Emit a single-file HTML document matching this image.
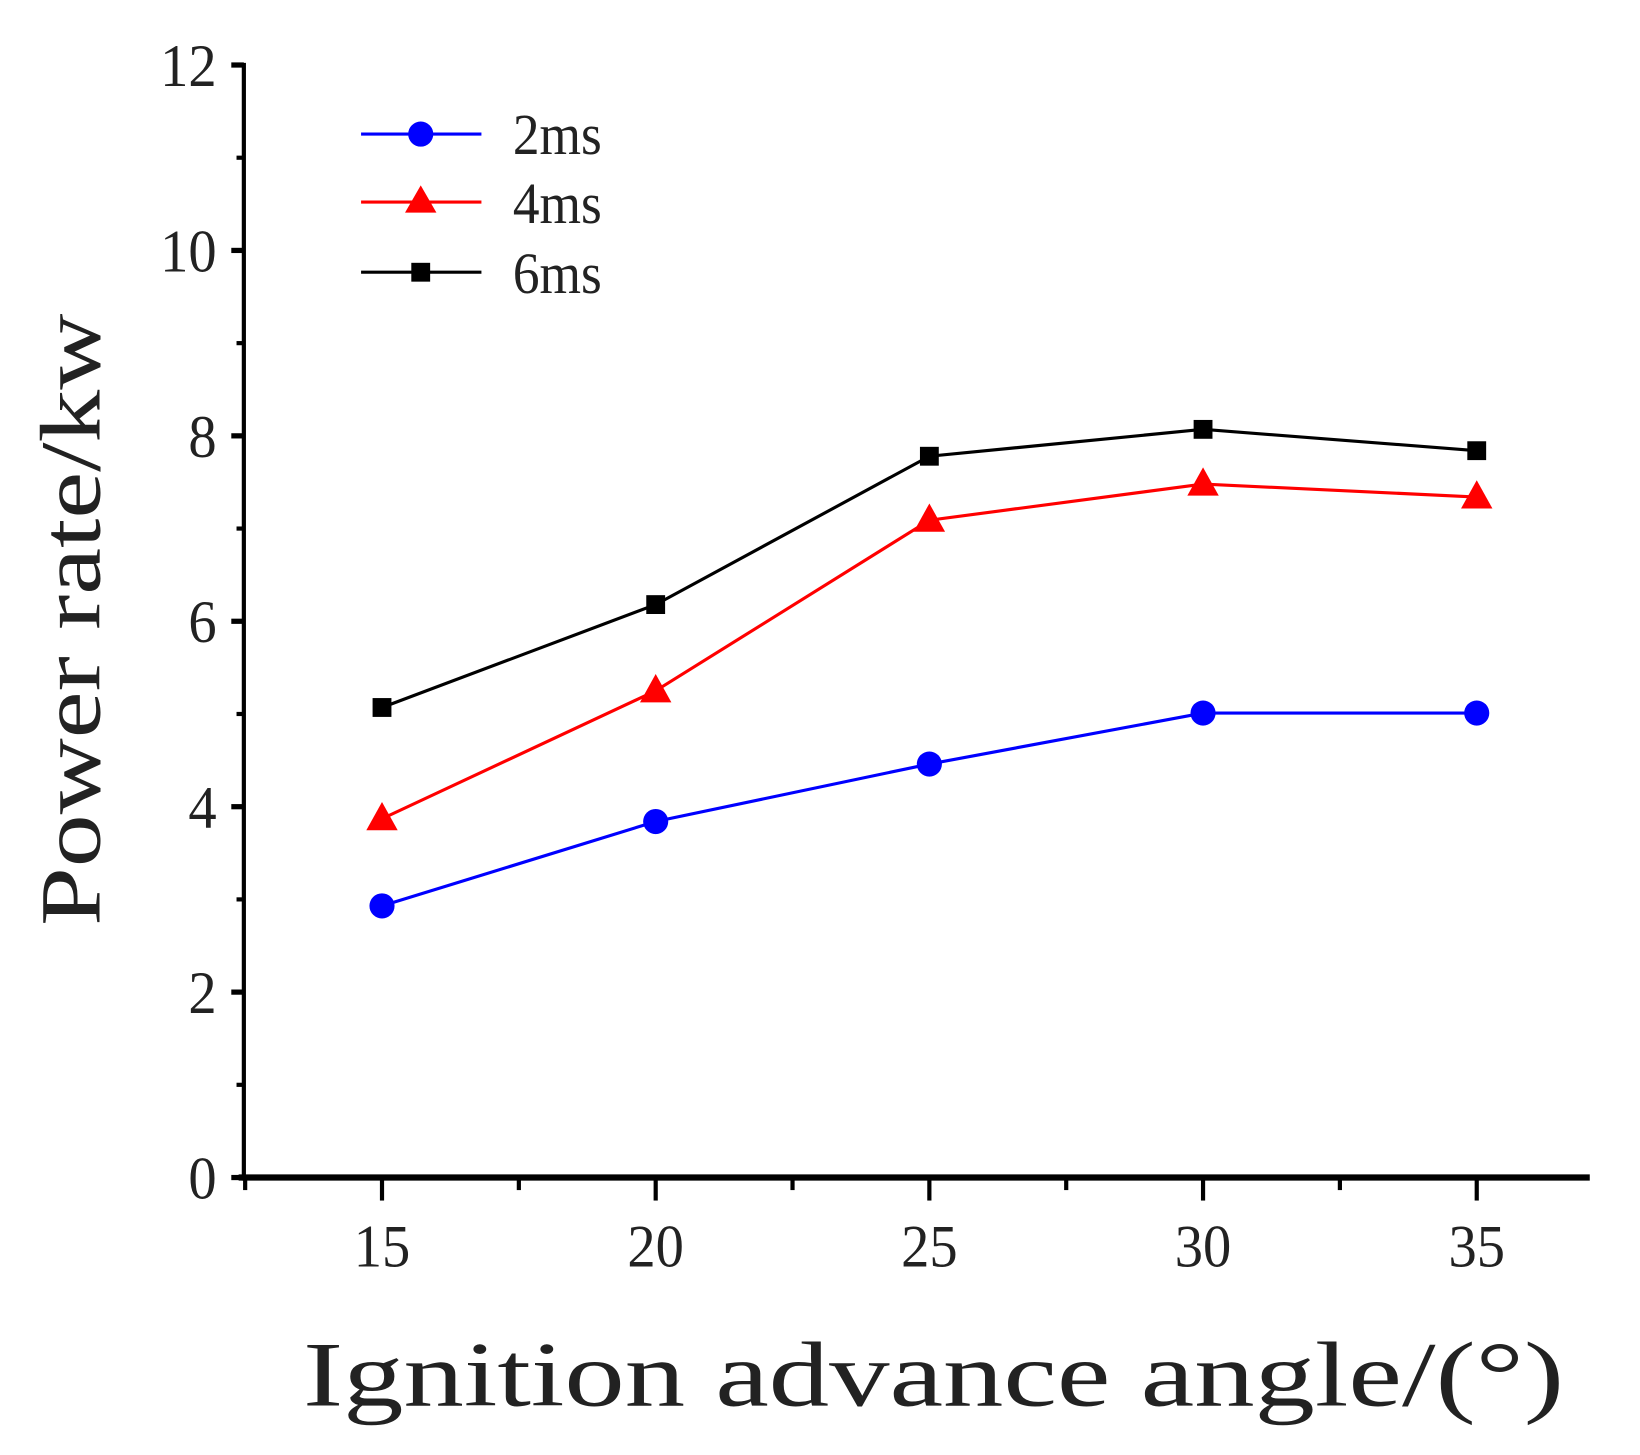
<!DOCTYPE html>
<html><head><meta charset="utf-8"><style>html,body{margin:0;padding:0;background:#fff}svg{display:block}</style></head>
<body>
<svg width="1640" height="1455" viewBox="0 0 1567 1390" xmlns="http://www.w3.org/2000/svg" font-family="'Liberation Serif', serif">
<g id="axes"></g>
<g id="series"></g>
<g>
  <g>
    <line x1="345" y1="128" x2="460" y2="128" stroke="#0000ff" stroke-width="3"/>
    <circle cx="402" cy="128" r="12" fill="#0000ff"/>
    <text x="490" y="147" font-size="56" textLength="85" lengthAdjust="spacingAndGlyphs" fill="#222">2ms</text>
  </g>
  <g>
    <line x1="345" y1="193" x2="460" y2="193" stroke="#ff0000" stroke-width="3"/>
    <polygon points="402,177 417,203 387,203" fill="#ff0000"/>
    <text x="490" y="213" font-size="56" textLength="85" lengthAdjust="spacingAndGlyphs" fill="#222">4ms</text>
  </g>
  <g>
    <line x1="345" y1="260" x2="460" y2="260" stroke="#000" stroke-width="3"/>
    <rect x="393" y="251" width="18" height="18" fill="#000"/>
    <text x="490" y="280" font-size="56" textLength="85" lengthAdjust="spacingAndGlyphs" fill="#222">6ms</text>
  </g>
</g>
<text transform="translate(95,592) rotate(-90)" text-anchor="middle" font-size="82" textLength="585" lengthAdjust="spacingAndGlyphs" fill="#222">Power rate/kw</text>
<text x="892" y="1343" text-anchor="middle" font-size="88" textLength="1205" lengthAdjust="spacingAndGlyphs" fill="#222">Ignition advance angle/(°)</text>
<script>
const categories = [15, 20, 25, 30, 35];
const series2ms = [2.93, 3.84, 4.46, 5.01, 5.01];
const series4ms = [3.87, 5.25, 7.09, 7.48, 7.34];
const series6ms = [5.07, 6.18, 7.78, 8.07, 7.84];
const yTicks = [0, 2, 4, 6, 8, 10, 12];
const xTicks = [15, 20, 25, 30, 35];
const NS = 'http://www.w3.org/2000/svg';
function xs(v){ return 365 + (v - 15) * (1411 - 365) / 20; }
function ys(v){ return 1125 - v * (1125 - 62) / 12; }
function mk(tag, attrs, parent){ const e = document.createElementNS(NS, tag); for (const k in attrs) e.setAttribute(k, attrs[k]); parent.appendChild(e); return e; }
const axes = document.getElementById('axes');
let el = mk('line', {x1:233, y1:60, x2:233, y2:1128, stroke:'#000', 'stroke-width':4}, axes);


el = mk('line', {x1:228, y1:1125, x2:1519, y2:1125, stroke:'#000', 'stroke-width':6}, axes);


for (let v = 0; v <= 12; v++) {
  const major = v % 2 === 0;
  const t = mk('line', {x1: major ? 221 : 226, y1: ys(v), x2:233, y2: ys(v), stroke:'#000', 'stroke-width': major ? 5 : 4}, axes);
  
  
}
yTicks.forEach(v => {
  const s = String(v);
  const t = mk('text', {x:207, y: ys(v) + 20, 'text-anchor':'end', 'font-size':58, textLength: s.length * 27, lengthAdjust:'spacingAndGlyphs', fill:'#222'}, axes);
  t.textContent = s;
  
  
});
for (let v = 12.5; v <= 35; v += 2.5) {
  const major = Number.isInteger(v / 5);
  const t = mk('line', {x1: xs(v), y1:1125, x2: xs(v), y2: major ? 1147 : 1137, stroke:'#000', 'stroke-width':4}, axes);
  
  
}
xTicks.forEach(v => {
  const t = mk('text', {x: xs(v), y:1210, 'text-anchor':'middle', 'font-size':58, textLength:54, lengthAdjust:'spacingAndGlyphs', fill:'#222'}, axes);
  t.textContent = String(v);
  
  
});
const sg = document.getElementById('series');
function drawSeries(vals, color, shape, name){
  const g = mk('g', {}, sg);
  
  
  const pts = vals.map((v, i) => xs(categories[i]) + ',' + ys(v)).join(' ');
  const pl = mk('polyline', {points: pts, fill:'none', stroke: color, 'stroke-width':3}, g);
  
  
  vals.forEach((v, i) => {
    const x = xs(categories[i]), y = ys(v);
    let m;
    if (shape === 'circle') m = mk('circle', {cx:x, cy:y, r:12, fill:color}, g);
    else if (shape === 'tri') m = mk('polygon', {points: `${x},${y-16} ${x+15},${y+11} ${x-15},${y+11}`, fill:color}, g);
    else m = mk('rect', {x:x-9, y:y-9, width:18, height:18, fill:color}, g);
    
    
  });
}
drawSeries(series6ms, '#000', 'square', 'series-6ms');
drawSeries(series4ms, '#ff0000', 'tri', 'series-4ms');
drawSeries(series2ms, '#0000ff', 'circle', 'series-2ms');
</script>
</svg>
</body></html>
